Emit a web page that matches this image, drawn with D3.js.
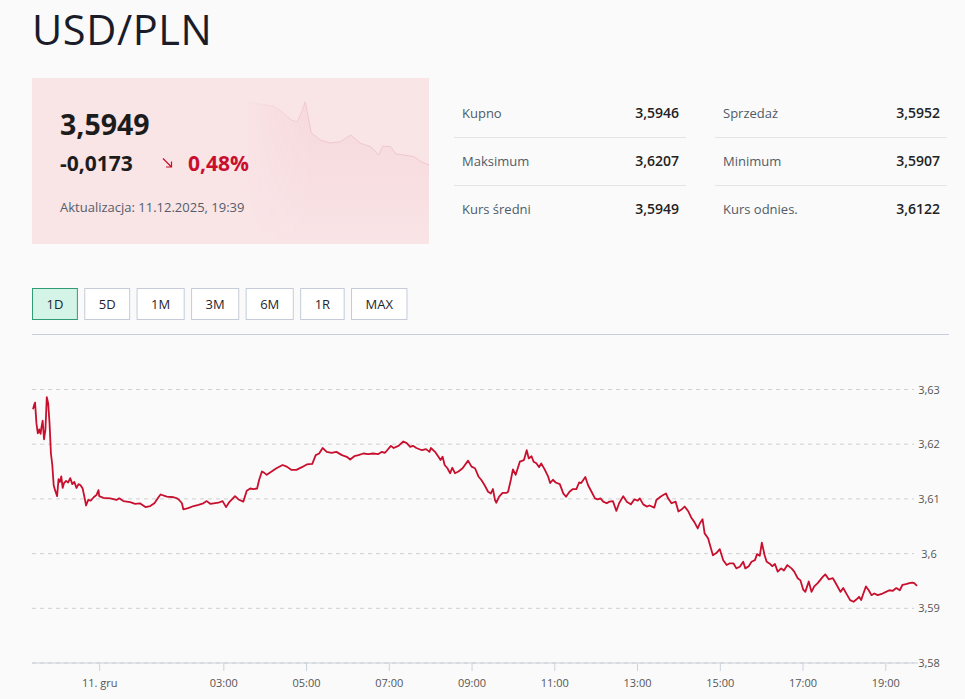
<!DOCTYPE html>
<html><head><meta charset="utf-8">
<script src="https://cdn.jsdelivr.net/npm/d3@7"></script>
<style>
html,body{margin:0;padding:0;background:#fafafa;}
svg{display:block;font-family:"Open Sans",sans-serif;}
</style></head><body>
<svg id="c" width="965" height="699"></svg>
<script>
// ---- data ----
const pair = "USD/PLN";
const lastRate = "3,5949";
const change = "-0,0173";
const changePct = "0,48%";
const updated = "Aktualizacja: 11.12.2025, 19:39";
const statLabelsLeft = ["Kupno", "Maksimum", "Kurs średni"];
const statValuesLeft = ["3,5946", "3,6207", "3,5949"];
const statLabelsRight = ["Sprzedaż", "Minimum", "Kurs odnies."];
const statValuesRight = ["3,5952", "3,5907", "3,6122"];
const ranges = ["1D", "5D", "1M", "3M", "6M", "1R", "MAX"];
const yTicks = [3.58, 3.59, 3.60, 3.61, 3.62, 3.63];
const xTickHours = [0, 3, 5, 7, 9, 11, 13, 15, 17, 19];
// minutes relative to 11.12.2025 00:00
const minutes = [-96,-94,-93,-91,-89,-87,-85,-84,-82,-80,-78,-76,-74,-72,-70,-68,-66,-64,-61,-59,-57,-55,-53,-51,-48,-45,-42,-39,-36,-33,-30,-27,-24,-21,-19,-16,-12,-8,-4,-1,0,6,16,25,29,35,45,52,59,67,74,80,86,89,98,108,113,116,120,122,129,137,144,151,156,161,166,173,179,184,188,197,202,209,214,219,224,229,232,236,239,243,250,257,266,272,279,286,294,301,309,314,319,324,330,337,344,352,359,364,370,376,383,390,397,405,410,414,417,423,427,434,441,446,451,455,460,468,474,479,481,487,492,495,498,501,505,509,512,516,521,527,535,540,545,550,554,559,564,568,571,574,576,580,585,591,593,597,600,604,610,616,620,623,627,630,634,638,641,646,651,654,658,662,668,673,677,682,687,692,696,699,705,709,714,719,723,727,731,736,740,745,750,754,760,765,771,776,781,784,789,794,798,805,808,814,818,822,825,830,836,840,844,849,854,859,863,868,871,875,878,883,890,895,900,905,910,914,920,924,929,934,937,942,946,951,954,958,961,965,968,972,976,980,984,989,993,998,1004,1008,1013,1017,1021,1024,1029,1033,1037,1042,1049,1053,1058,1064,1069,1075,1079,1084,1089,1094,1098,1102,1105,1108,1112,1116,1120,1124,1129,1136,1141,1146,1151,1156,1161,1165,1170,1175,1179,1182,1186];
const rates = [3.6264,3.6273,3.6276,3.6238,3.6220,3.6227,3.6219,3.6229,3.6243,3.6209,3.6226,3.6286,3.6275,3.6238,3.6183,3.6162,3.6125,3.6116,3.6105,3.6136,3.6131,3.6141,3.6120,3.6129,3.6133,3.6130,3.6138,3.6127,3.6131,3.6120,3.6127,3.6125,3.6119,3.6101,3.6088,3.6098,3.6097,3.6103,3.6107,3.6116,3.6105,3.6102,3.6101,3.6098,3.6101,3.6096,3.6094,3.6091,3.6092,3.6085,3.6087,3.6092,3.6103,3.6108,3.6104,3.6103,3.6101,3.6098,3.6092,3.6081,3.6083,3.6087,3.6089,3.6092,3.6096,3.6091,3.6092,3.6093,3.6096,3.6085,3.6093,3.6105,3.6099,3.6095,3.6115,3.6119,3.6118,3.6119,3.6135,3.6150,3.6148,3.6144,3.6150,3.6156,3.6162,3.6159,3.6153,3.6153,3.6158,3.6163,3.6164,3.6180,3.6183,3.6193,3.6186,3.6184,3.6186,3.6180,3.6177,3.6172,3.6178,3.6180,3.6183,3.6182,3.6183,3.6182,3.6186,3.6184,3.6188,3.6197,3.6193,3.6197,3.6205,3.6202,3.6195,3.6197,3.6193,3.6189,3.6191,3.6186,3.6193,3.6186,3.6177,3.6171,3.6177,3.6162,3.6156,3.6147,3.6157,3.6147,3.6150,3.6156,3.6170,3.6159,3.6156,3.6141,3.6135,3.6125,3.6113,3.6110,3.6118,3.6098,3.6093,3.6104,3.6111,3.6111,3.6113,3.6135,3.6154,3.6144,3.6168,3.6171,3.6189,3.6174,3.6178,3.6168,3.6165,3.6158,3.6165,3.6154,3.6141,3.6129,3.6135,3.6130,3.6127,3.6110,3.6104,3.6113,3.6118,3.6118,3.6130,3.6129,3.6140,3.6125,3.6113,3.6101,3.6099,3.6101,3.6095,3.6092,3.6095,3.6096,3.6078,3.6092,3.6105,3.6095,3.6090,3.6099,3.6097,3.6101,3.6090,3.6086,3.6088,3.6084,3.6098,3.6104,3.6107,3.6110,3.6101,3.6092,3.6095,3.6077,3.6080,3.6086,3.6078,3.6065,3.6058,3.6046,3.6055,3.6063,3.6037,3.6028,3.5997,3.6001,3.6008,3.5988,3.5979,3.5982,3.5982,3.5973,3.5976,3.5985,3.5973,3.5977,3.5985,3.5988,3.5999,3.5996,3.6020,3.5997,3.5985,3.5982,3.5977,3.5981,3.5967,3.5973,3.5969,3.5979,3.5973,3.5967,3.5955,3.5951,3.5934,3.5930,3.5949,3.5930,3.5940,3.5946,3.5957,3.5962,3.5953,3.5955,3.5944,3.5930,3.5937,3.5926,3.5915,3.5912,3.5916,3.5921,3.5915,3.5926,3.5940,3.5933,3.5924,3.5927,3.5924,3.5927,3.5930,3.5933,3.5932,3.5937,3.5933,3.5943,3.5944,3.5946,3.5947,3.5946,3.5941];
// mini chart in the card (hours over a 5-day window)
const sparkHours = [0,5.9,11.7,18.3,24.1,30,33.9,37.2,39.1,41.1,43,48.9,55.4,61.9,68.5,75,81.5,86.7,89.3,94.5,97.8,103,109.5,114.1,119.3];
const sparkRates = [3.6400,3.6392,3.6383,3.6374,3.6338,3.6290,3.6278,3.6350,3.6400,3.6302,3.6212,3.6170,3.6152,3.6160,3.6200,3.6150,3.6130,3.6080,3.6134,3.6130,3.6086,3.6080,3.6070,3.6040,3.6020];

// ---- drawing ----
const svg = d3.select("#c");
const RED = "#c8102e";
svg.append("rect").attr("width", 965).attr("height", 699).attr("fill", "#fafafa");

svg.append("text").attr("x", 32).attr("y", 44.8).attr("font-size", 41.5).attr("letter-spacing", 0.6)
  .attr("fill", "#1a1c29").text(pair);

// card
const defs = svg.append("defs");
const g1 = defs.append("linearGradient").attr("id", "sg").attr("x1", 0).attr("y1", 0).attr("x2", 0).attr("y2", 1);
g1.append("stop").attr("offset", "0%").attr("stop-color", "#d94a60").attr("stop-opacity", 0.07);
g1.append("stop").attr("offset", "100%").attr("stop-color", "#d94a60").attr("stop-opacity", 0.0);
const g2 = defs.append("linearGradient").attr("id", "hf").attr("gradientUnits", "userSpaceOnUse")
  .attr("x1", 245).attr("y1", 0).attr("x2", 310).attr("y2", 0);
g2.append("stop").attr("offset", "0%").attr("stop-color", "#fff").attr("stop-opacity", 0);
g2.append("stop").attr("offset", "100%").attr("stop-color", "#fff").attr("stop-opacity", 1);
defs.append("mask").attr("id", "fade").append("rect").attr("x", 240).attr("y", 78).attr("width", 200).attr("height", 170).attr("fill", "url(#hf)");

const card = svg.append("g");
card.append("rect").attr("x", 32).attr("y", 78).attr("width", 397).attr("height", 166).attr("fill", "#f9e4e6");
const sx = d3.scaleLinear().domain([0, 119.3]).range([245, 429]);
const sy = d3.scaleLinear().domain([3.58, 3.64]).range([201.7, 101.7]);
const sdata = sparkHours.map((h, i) => [h, sparkRates[i]]);
const spark = card.append("g").attr("mask", "url(#fade)");
spark.append("path").datum(sdata).attr("fill", "url(#sg)")
  .attr("d", d3.area().x(d => sx(d[0])).y0(244).y1(d => sy(d[1])));
spark.append("path").datum(sdata).attr("fill", "none").attr("stroke", "#efc6cc").attr("stroke-width", 1)
  .attr("d", d3.line().x(d => sx(d[0])).y(d => sy(d[1])));

card.append("text").attr("x", 60).attr("y", 135).attr("font-size", 28.5).attr("font-weight", 700).attr("fill", "#1c1c1c").text(lastRate);
card.append("text").attr("x", 60).attr("y", 171).attr("font-size", 21).attr("font-weight", 700).attr("fill", "#1c1c1c").text(change);
card.append("path").attr("d", "M163,158.5 L171.5,167 M171.5,161.5 L171.5,167 L166,167")
  .attr("fill", "none").attr("stroke", RED).attr("stroke-width", 1.2);
card.append("text").attr("x", 188).attr("y", 171).attr("font-size", 21).attr("font-weight", 700).attr("fill", RED).text(changePct);
card.append("text").attr("x", 60).attr("y", 212).attr("font-size", 13).attr("fill", "#555d6b").text(updated);

// stats table
function statCol(x0, x1, labels, values) {
  const g = svg.append("g");
  const rowY = [113, 161, 209];
  labels.forEach((l, i) => {
    g.append("text").attr("x", x0 + 8).attr("y", rowY[i]).attr("dy", "0.35em").attr("font-size", 13).attr("fill", "#505a68").text(l);
    g.append("text").attr("x", x1 - 7).attr("y", rowY[i]).attr("dy", "0.35em").attr("text-anchor", "end").attr("font-size", 14).attr("font-weight", 600).attr("fill", "#222").text(values[i]);
  });
  [137.5, 185.5].forEach(y => g.append("line").attr("x1", x0).attr("x2", x1).attr("y1", y).attr("y2", y).attr("stroke", "#e2e4e8"));
}
statCol(454, 686, statLabelsLeft, statValuesLeft);
statCol(715, 947, statLabelsRight, statValuesRight);

// range buttons
let bx = 32.5;
ranges.forEach((r, i) => {
  const g = svg.append("g");
  const t = g.append("text").attr("y", 304).attr("dy", "0.35em").attr("text-anchor", "middle").attr("font-size", 13).attr("fill", "#1f2530").text(r);
  const w = t.node().getComputedTextLength() + 28;
  t.attr("x", bx + w / 2);
  g.insert("rect", "text").attr("x", bx).attr("y", 288.5).attr("width", w).attr("height", 31)
    .attr("fill", i === 0 ? "#d3f4e7" : "#fff").attr("stroke", i === 0 ? "#2e9c76" : "#c5ccd7");
  bx += w + 7.4;
});
svg.append("line").attr("x1", 32).attr("x2", 949).attr("y1", 334.5).attr("y2", 334.5).attr("stroke", "#c7cfda");

// main chart
const base = new Date(2025, 11, 11, 0, 0);
const toDate = m => new Date(base.getTime() + m * 60000);
const data = minutes.map((m, i) => ({ t: toDate(m), v: rates[i] }));
const x = d3.scaleTime().domain([toDate(minutes[0]), toDate(minutes[minutes.length - 1])]).range([33, 917]);
const y = d3.scaleLinear().domain([3.58, 3.63]).range([663, 389.5]);
const loc = d3.formatLocale({ decimal: ",", thousands: " ", grouping: [3], currency: ["", " zł"] });
const yf = loc.format(".3~r");

const grid = svg.append("g");
yTicks.forEach(v => {
  grid.append("line").attr("x1", 32).attr("x2", 914).attr("y1", y(v)).attr("y2", y(v))
    .attr("stroke", "#cfcfcf").attr("stroke-dasharray", "4,4");
});
const yAxis = d3.axisRight(y).tickValues(yTicks).tickSize(0).tickPadding(0).tickFormat(yf);
const ya = svg.append("g").attr("transform", "translate(929,0)").call(yAxis);
ya.select(".domain").remove();
ya.selectAll("text").attr("text-anchor", "middle").attr("font-size", 11).attr("fill", "#555").attr("font-family", "Open Sans");

const xTickDates = xTickHours.map(h => toDate(h * 60));
const xAxis = d3.axisBottom(x).tickValues(xTickDates).tickSize(8).tickPadding(8)
  .tickFormat(d => d.getHours() === 0 ? d.getDate() + ". gru" : d3.timeFormat("%H:%M")(d));
const xa = svg.append("g").attr("transform", "translate(0,663)").call(xAxis);
xa.select(".domain").remove();
xa.selectAll(".tick line").attr("stroke", "#cdd3dc");
xa.selectAll("text").attr("font-size", 11).attr("fill", "#555").attr("font-family", "Open Sans");
svg.append("line").attr("x1", 32).attr("x2", 918).attr("y1", 663).attr("y2", 663).attr("stroke", "#c9d0da");

svg.append("path").datum(data).attr("fill", "none").attr("stroke", RED).attr("stroke-width", 1.8)
  .attr("stroke-linejoin", "round")
  .attr("d", d3.line().x(d => x(d.t)).y(d => y(d.v)));
</script>
</body></html>
